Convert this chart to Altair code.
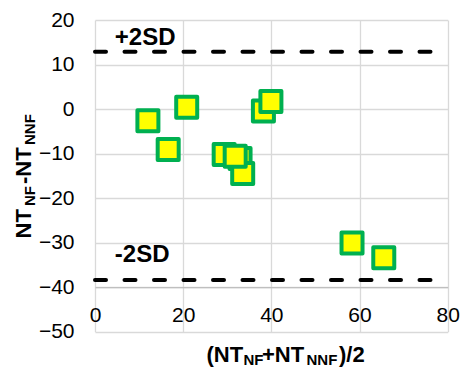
import altair as alt
import pandas as pd

# ---- data ----
x_vals = [12.0, 16.6, 20.8, 29.3, 32.9, 33.5, 31.8, 38.2, 39.9, 58.3, 65.5]
y_vals = [-2.65, -9.1, 0.4, -10.2, -11.1, -14.5, -10.6, -0.45, 1.7, -30.1, -33.4]
sd_values = [12.88, -38.39]
sd_labels = ["+2SD", "-2SD"]
sd_label_x = [4.5, 4.5]
sd_label_y = [14.4, -34.3]
x_ticks = [0, 20, 40, 60, 80]
y_ticks = [-50, -40, -30, -20, -10, 0, 10, 20]
x_domain = [0, 80]
y_domain = [-50, 20]

pts = pd.DataFrame({"x": x_vals, "y": y_vals})
sd = pd.DataFrame({"x0": [x_domain[0]] * len(sd_values),
                   "x1": [x_domain[1]] * len(sd_values),
                   "y": sd_values})
lab = pd.DataFrame({"x": sd_label_x, "y": sd_label_y, "t": sd_labels})

FONT = "Liberation Sans"
W, H = 352.7, 311.7

xs = alt.Scale(domain=x_domain, nice=False, zero=False)
ys = alt.Scale(domain=y_domain, nice=False, zero=False)

x_axis = alt.Axis(values=x_ticks, orient="bottom", offset=-44.5, labelFontSize=21,
                  labelFont=FONT, labelColor="black", labelPadding=17, ticks=False,
                  domain=True, domainColor="#bfbfbf", domainWidth=1.3, grid=True,
                  gridColor="#d9d9d9", gridWidth=1.3, title=None, labelFlush=False,
                  labelOverlap=False)
y_axis = alt.Axis(values=y_ticks, orient="left", labelFontSize=21, labelFont=FONT,
                  labelColor="black", labelPadding=21, ticks=False, domain=False,
                  grid=True, gridColor="#d9d9d9", gridWidth=1.3, title=None,
                  labelFlush=False, labelOverlap=False)

rules = alt.Chart(sd).mark_rule(color="black", strokeWidth=4, strokeDash=[11, 18.5],
                                strokeCap="round").encode(
    x=alt.X("x0:Q", scale=xs, axis=x_axis),
    x2="x1:Q",
    y=alt.Y("y:Q", scale=ys, axis=y_axis),
)

points = alt.Chart(pts).mark_square(size=441, fill="#FFFF00", stroke="#00B050",
                                    strokeWidth=4, opacity=1, fillOpacity=1,
                                    strokeJoin="round").encode(
    x=alt.X("x:Q", scale=xs, axis=x_axis),
    y=alt.Y("y:Q", scale=ys, axis=y_axis),
)

labels = alt.Chart(lab).mark_text(align="left", baseline="alphabetic", font=FONT,
                                  fontSize=24, fontWeight="bold", color="black").encode(
    x=alt.X("x:Q", scale=xs, axis=x_axis),
    y=alt.Y("y:Q", scale=ys, axis=y_axis),
    text="t:N",
)

one = pd.DataFrame({"a": [0]})


def txt(s, px, py, size, angle=0):
    kw = dict(align="left", baseline="alphabetic", font=FONT, fontSize=size,
              fontWeight="bold", color="black")
    if angle:
        kw["angle"] = angle
    return alt.Chart(one).mark_text(**kw).encode(
        x=alt.value(px), y=alt.value(py), text=alt.value(s))


MAIN, SUB = 22, 15
titles = [
    # x title: (NT_NF+NT_NNF)/2
    txt("(NT", 111.5, 341.7, MAIN),
    txt("NF", 148.5, 345.0, SUB),
    txt("+NT", 167.0, 341.7, MAIN),
    txt("NNF", 211.5, 345.0, SUB),
    txt(")/2", 244.0, 341.7, MAIN),
    # y title: NT_NF-NT_NNF (rotated)
    txt("NT", -64.5, 218.5, MAIN, 270),
    txt("NF", -60.0, 186.0, SUB, 270),
    txt("-NT", -64.5, 164.0, MAIN, 270),
    txt("NNF", -60.0, 125.0, SUB, 270),
]

chart = alt.layer(rules, points, labels, *titles).properties(
    width=W, height=H,
    padding={"left": 95, "top": 20, "right": 13.3, "bottom": 38.3},
    autosize=alt.AutoSizeParams(type="none"),
    background="white",
).configure_view(stroke=None)

chart.save("out.html", embed_options={"renderer": "svg", "actions": False})
